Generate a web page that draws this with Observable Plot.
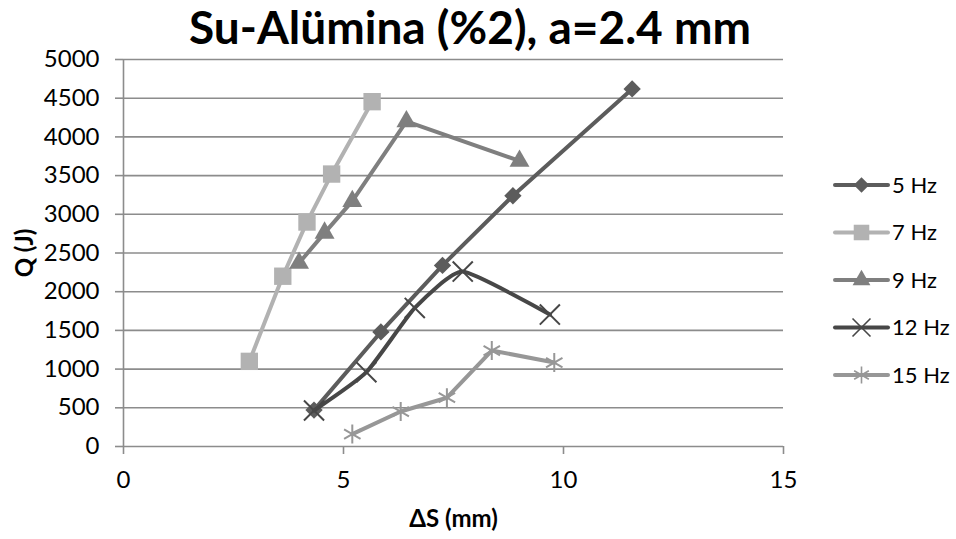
<!DOCTYPE html>
<html>
<head>
<meta charset="utf-8">
<script src="https://cdn.jsdelivr.net/npm/d3@7"></script>
<script src="https://cdn.jsdelivr.net/npm/@observablehq/plot@0.6"></script>
<style>
  html, body { margin: 0; padding: 0; background: #fff; }
  #wrap { position: relative; width: 956px; height: 539px; font-family: Lato, "Open Sans", sans-serif; }
  #title { position: absolute; left: 0; top: 1px; width: 940px; text-align: center;
           font-weight: 700; font-size: 46px; line-height: 52px; color: #000; }
  #legend { position: absolute; left: 828px; top: 160px; }
</style>
</head>
<body>
<div id="wrap">
  <div id="chart"></div>
  <div id="title">Su-Alümina (%2), a=2.4 mm</div>
  <div id="legend"></div>
</div>
<script>
// ΔS (mm) and Q (J) for each excitation frequency
const series = ["5 Hz", "7 Hz", "9 Hz", "12 Hz", "15 Hz"];
const hz5_x  = [4.33, 5.85, 7.25, 8.85, 11.56];
const hz5_y  = [470, 1480, 2340, 3240, 4620];
const hz7_x  = [2.86, 3.62, 4.17, 4.73, 5.65];
const hz7_y  = [1100, 2200, 2900, 3520, 4455];
const hz9_x  = [3.99, 4.57, 5.20, 6.43, 9.00];
const hz9_y  = [2370, 2760, 3170, 4200, 3690];
const hz12_x = [4.33, 5.52, 6.62, 7.71, 9.69];
const hz12_y = [465, 960, 1790, 2260, 1705];
const hz15_x = [5.20, 6.30, 7.35, 8.37, 9.79];
const hz15_y = [160, 452, 630, 1240, 1085];
const xTicks = [0, 5, 10, 15];
const yTicks = [0, 500, 1000, 1500, 2000, 2500, 3000, 3500, 4000, 4500, 5000];

const xs = [hz5_x, hz7_x, hz9_x, hz12_x, hz15_x];
const ys = [hz5_y, hz7_y, hz9_y, hz12_y, hz15_y];

// per-series look: colour, marker symbol, marker radius, whether the marker is filled, curve
const styles = [
  {color: "#5c5c5c", symbol: "diamond2", r: 7.8, filled: true,  curve: "linear"},
  {color: "#b2b2b2", symbol: "square",   r: 9.8, filled: true,  curve: "linear"},
  {color: "#7f7f7f", symbol: "triangle", r: 7.4, filled: true,  curve: "linear"},
  {color: "#474747", symbol: "times",    r: 9.2, filled: false, curve: "cardinal"},
  {color: "#979797", symbol: "asterisk", r: 9.0, filled: false, curve: "linear"}
];

const grid = "#8c8c8c";
const marks = [
  Plot.ruleY(yTicks.filter(d => d > 0), {stroke: grid, strokeWidth: 1.6}),
  Plot.ruleX([0], {stroke: grid, strokeWidth: 1.6}),
  Plot.ruleY([0], {stroke: grid, strokeWidth: 1.6})
];

series.forEach((name, i) => {
  const rows = xs[i].map((x, j) => ({x, y: ys[i][j], s: name}));
  const st = styles[i];
  marks.push(Plot.line(rows, {x: "x", y: "y", stroke: st.color, strokeWidth: 4,
    curve: st.curve, tension: 0.5, strokeLinejoin: "round", strokeLinecap: "round"}));
  marks.push(Plot.dot(rows, st.filled
    ? {x: "x", y: "y", symbol: () => st.symbol, r: st.r, fill: st.color, stroke: "none"}
    : {x: "x", y: "y", symbol: () => st.symbol, r: st.r, stroke: st.color, strokeWidth: 2, fill: "none"}));
});

const chart = Plot.plot({
  width: 956,
  height: 539,
  marginLeft: 123,
  marginRight: 173,
  marginTop: 59,
  marginBottom: 93,
  style: {fontFamily: "Lato, 'Open Sans', sans-serif", fontSize: "24px", color: "#000", background: "#fff"},
  symbol: {type: "identity"},
  x: {domain: [0, 15], label: null},
  y: {domain: [0, 5000], label: null},
  marks: [
    ...marks,
    Plot.axisX({ticks: xTicks, tickFormat: d3.format("d"), tickSize: 8, tickPadding: 16,
      stroke: grid, strokeWidth: 1.6, fill: "#000",
      label: "ΔS (mm)", labelAnchor: "center", labelArrow: "none", labelOffset: 80}),
    Plot.axisY({ticks: yTicks, tickFormat: d3.format("d"), tickSize: 8, tickPadding: 16,
      stroke: grid, strokeWidth: 1.6, fill: "#000",
      label: "Q (J)", labelAnchor: "center", labelArrow: "none", labelOffset: 108})
  ]
});

// bold axis titles
const svg = d3.select(chart);
svg.selectAll("[aria-label='x-axis label'] text, [aria-label='y-axis label'] text")
  .style("font-weight", "700").style("font-size", "24px");

document.getElementById("chart").appendChild(chart);

// legend: short line with the series marker, then the name
const rowH = 47.5;
const leg = d3.select("#legend").append("svg")
  .attr("width", 128).attr("height", 5 * rowH + 10)
  .style("font-family", "Lato, 'Open Sans', sans-serif");
const symMap = {diamond2: d3.symbolDiamond2, square: d3.symbolSquare, triangle: d3.symbolTriangle,
                times: d3.symbolTimes, asterisk: d3.symbolAsterisk};
series.forEach((name, i) => {
  const st = styles[i];
  const cy = 25 + i * rowH;
  const g = leg.append("g");
  g.append("line").attr("x1", 7).attr("x2", 60).attr("y1", cy).attr("y2", cy)
    .attr("stroke", st.color).attr("stroke-width", 4).attr("stroke-linecap", "round");
  const size = Math.PI * st.r * st.r * 0.8;
  const p = g.append("path").attr("transform", `translate(33.5,${cy})`)
    .attr("d", d3.symbol(symMap[st.symbol], size)());
  if (st.filled) p.attr("fill", st.color);
  else p.attr("fill", "none").attr("stroke", st.color).attr("stroke-width", 1.6);
  g.append("text").attr("x", 64).attr("y", cy).attr("dy", "0.35em")
    .attr("font-size", 22).attr("fill", "#000").text(name);
});
</script>
</body>
</html>
